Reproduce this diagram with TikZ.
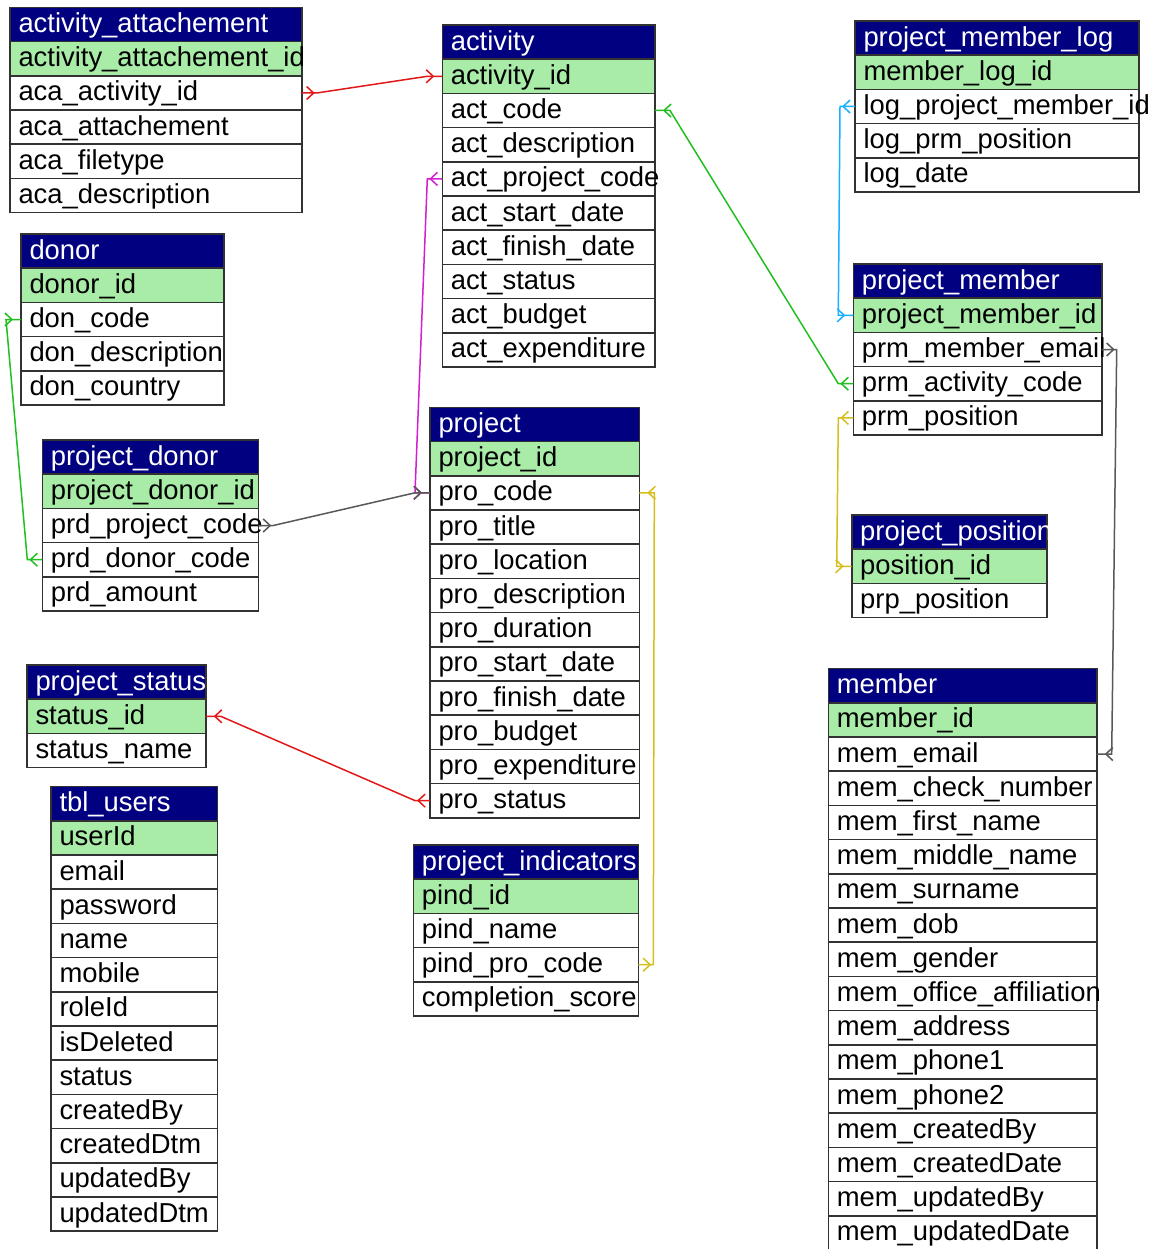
\documentclass[tikz,border=0pt]{standalone}
\usepackage{fontspec}
\setmainfont{Liberation Sans}
\usetikzlibrary{positioning,arrows.meta,decorations.markings}
\definecolor{hdrblue}{RGB}{0,0,128}
\definecolor{keygreen}{RGB}{168,236,168}
\definecolor{rowline}{RGB}{50,50,50}
\definecolor{linkred}{RGB}{226,24,24}
\definecolor{linkgreen}{RGB}{34,190,34}
\definecolor{linkblue}{RGB}{24,176,255}
\definecolor{linkpink}{RGB}{208,32,208}
\definecolor{linkgrey}{RGB}{88,88,88}
\definecolor{linkgold}{RGB}{214,190,30}
\tikzset{
  fieldrow/.style={draw=rowline, line width=1.6pt, inner xsep=8.5pt, inner ysep=0pt, outer sep=0pt,
    minimum height=34.2pt, text height=21pt, text depth=5pt, align=left,
    font=\fontsize{27.4}{30}\selectfont},
  hdr/.style={fieldrow, fill=hdrblue, text=white},
  keyrow/.style={fieldrow, fill=keygreen},
  fld/.style={fieldrow, fill=white},
  fklink/.style={line width=1.5pt, decoration={markings,
    mark=at position 13pt with {\arrow{Straight Barb[length=7pt,width=13pt]}},
    mark=at position -8pt with {\arrow{Straight Barb[length=7pt,width=13pt]}}},
    postaction={decorate}},
}
\begin{document}
\begin{tikzpicture}[x=1pt,y=-1pt]
\useasboundingbox (0,0) rectangle (1153,1249);
\begin{scope}[every node/.append style={text width=274.7pt}]
\node[hdr, anchor=north west] (aa) at (10,7.5) {activity\_attachement};
\node[keyrow, below=0pt of aa] (aaId) {activity\_attachement\_id};
\node[fld, below=0pt of aaId] (aaAct) {aca\_activity\_id};
\node[fld, below=0pt of aaAct] (aaAtt) {aca\_attachement};
\node[fld, below=0pt of aaAtt] (aaType) {aca\_filetype};
\node[fld, below=0pt of aaType] (aaDesc) {aca\_description};
\end{scope}
\begin{scope}[every node/.append style={text width=195.7pt}]
\node[hdr, anchor=north west] (act) at (442.3,25) {activity};
\node[keyrow, below=0pt of act] (actId) {activity\_id};
\node[fld, below=0pt of actId] (actCode) {act\_code};
\node[fld, below=0pt of actCode] (actDesc) {act\_description};
\node[fld, below=0pt of actDesc] (actProj) {act\_project\_code};
\node[fld, below=0pt of actProj] (actStart) {act\_start\_date};
\node[fld, below=0pt of actStart] (actFinish) {act\_finish\_date};
\node[fld, below=0pt of actFinish] (actStatus) {act\_status};
\node[fld, below=0pt of actStatus] (actBudget) {act\_budget};
\node[fld, below=0pt of actBudget] (actExp) {act\_expenditure};
\end{scope}
\begin{scope}[every node/.append style={text width=267pt}]
\node[hdr, anchor=north west] (pml) at (855,21) {project\_member\_log};
\node[keyrow, below=0pt of pml] (pmlId) {member\_log\_id};
\node[fld, below=0pt of pmlId] (pmlPrm) {log\_project\_member\_id};
\node[fld, below=0pt of pmlPrm] (pmlPos) {log\_prm\_position};
\node[fld, below=0pt of pmlPos] (pmlDate) {log\_date};
\end{scope}
\begin{scope}[every node/.append style={text width=186pt}]
\node[hdr, anchor=north west] (don) at (21,234) {donor};
\node[keyrow, below=0pt of don] (donId) {donor\_id};
\node[fld, below=0pt of donId] (donCode) {don\_code};
\node[fld, below=0pt of donCode] (donDesc) {don\_description};
\node[fld, below=0pt of donDesc] (donCountry) {don\_country};
\end{scope}
\begin{scope}[every node/.append style={text width=231.4pt}]
\node[hdr, anchor=north west] (prm) at (853.3,264) {project\_member};
\node[keyrow, below=0pt of prm] (prmId) {project\_member\_id};
\node[fld, below=0pt of prmId] (prmEmail) {prm\_member\_email};
\node[fld, below=0pt of prmEmail] (prmAct) {prm\_activity\_code};
\node[fld, below=0pt of prmAct] (prmPos) {prm\_position};
\end{scope}
\begin{scope}[every node/.append style={text width=192.3pt}]
\node[hdr, anchor=north west] (pro) at (430,407.3) {project};
\node[keyrow, below=0pt of pro] (proId) {project\_id};
\node[fld, below=0pt of proId] (proCode) {pro\_code};
\node[fld, below=0pt of proCode] (proTitle) {pro\_title};
\node[fld, below=0pt of proTitle] (proLoc) {pro\_location};
\node[fld, below=0pt of proLoc] (proDesc) {pro\_description};
\node[fld, below=0pt of proDesc] (proDur) {pro\_duration};
\node[fld, below=0pt of proDur] (proStart) {pro\_start\_date};
\node[fld, below=0pt of proStart] (proFinish) {pro\_finish\_date};
\node[fld, below=0pt of proFinish] (proBudget) {pro\_budget};
\node[fld, below=0pt of proBudget] (proExp) {pro\_expenditure};
\node[fld, below=0pt of proExp] (proStatus) {pro\_status};
\end{scope}
\begin{scope}[every node/.append style={text width=199pt}]
\node[hdr, anchor=north west] (prd) at (42.3,440) {project\_donor};
\node[keyrow, below=0pt of prd] (prdId) {project\_donor\_id};
\node[fld, below=0pt of prdId] (prdProj) {prd\_project\_code};
\node[fld, below=0pt of prdProj] (prdDon) {prd\_donor\_code};
\node[fld, below=0pt of prdDon] (prdAmount) {prd\_amount};
\end{scope}
\begin{scope}[every node/.append style={text width=178.3pt}]
\node[hdr, anchor=north west] (prp) at (851.7,515) {project\_position};
\node[keyrow, below=0pt of prp] (prpId) {position\_id};
\node[fld, below=0pt of prpId] (prpPos) {prp\_position};
\end{scope}
\begin{scope}[every node/.append style={text width=161.7pt}]
\node[hdr, anchor=north west] (pst) at (27,665) {project\_status};
\node[keyrow, below=0pt of pst] (pstId) {status\_id};
\node[fld, below=0pt of pstId] (pstName) {status\_name};
\end{scope}
\begin{scope}[every node/.append style={text width=251.4pt}]
\node[hdr, anchor=north west] (mem) at (828.3,668.5) {member};
\node[keyrow, below=0pt of mem] (memId) {member\_id};
\node[fld, below=0pt of memId] (memEmail) {mem\_email};
\node[fld, below=0pt of memEmail] (memCheck) {mem\_check\_number};
\node[fld, below=0pt of memCheck] (memFirst) {mem\_first\_name};
\node[fld, below=0pt of memFirst] (memMiddle) {mem\_middle\_name};
\node[fld, below=0pt of memMiddle] (memSurname) {mem\_surname};
\node[fld, below=0pt of memSurname] (memDob) {mem\_dob};
\node[fld, below=0pt of memDob] (memGender) {mem\_gender};
\node[fld, below=0pt of memGender] (memOffice) {mem\_office\_affiliation};
\node[fld, below=0pt of memOffice] (memAddress) {mem\_address};
\node[fld, below=0pt of memAddress] (memPhoneA) {mem\_phone1};
\node[fld, below=0pt of memPhoneA] (memPhoneB) {mem\_phone2};
\node[fld, below=0pt of memPhoneB] (memCreatedBy) {mem\_createdBy};
\node[fld, below=0pt of memCreatedBy] (memCreatedDate) {mem\_createdDate};
\node[fld, below=0pt of memCreatedDate] (memUpdatedBy) {mem\_updatedBy};
\node[fld, below=0pt of memUpdatedBy] (memUpdatedDate) {mem\_updatedDate};
\end{scope}
\begin{scope}[every node/.append style={text width=149.3pt}]
\node[hdr, anchor=north west] (usr) at (51,786.5) {tbl\_users};
\node[keyrow, below=0pt of usr] (usrId) {userId};
\node[fld, below=0pt of usrId] (usrEmail) {email};
\node[fld, below=0pt of usrEmail] (usrPass) {password};
\node[fld, below=0pt of usrPass] (usrName) {name};
\node[fld, below=0pt of usrName] (usrMobile) {mobile};
\node[fld, below=0pt of usrMobile] (usrRole) {roleId};
\node[fld, below=0pt of usrRole] (usrDel) {isDeleted};
\node[fld, below=0pt of usrDel] (usrStatus) {status};
\node[fld, below=0pt of usrStatus] (usrCBy) {createdBy};
\node[fld, below=0pt of usrCBy] (usrCDtm) {createdDtm};
\node[fld, below=0pt of usrCDtm] (usrUBy) {updatedBy};
\node[fld, below=0pt of usrUBy] (usrUDtm) {updatedDtm};
\end{scope}
\begin{scope}[every node/.append style={text width=208pt}]
\node[hdr, anchor=north west] (pind) at (413.3,845) {project\_indicators};
\node[keyrow, below=0pt of pind] (pindId) {pind\_id};
\node[fld, below=0pt of pindId] (pindName) {pind\_name};
\node[fld, below=0pt of pindName] (pindPro) {pind\_pro\_code};
\node[fld, below=0pt of pindPro] (pindScore) {completion\_score};
\end{scope}
\draw[fklink, linkred] (aaAct.east) -- ++(15,0) -- ([xshift=-15pt]actId.west) -- (actId.west);
\draw[fklink, linkgreen] (prmAct.west) -- ++(-15,0) -- ([xshift=15pt]actCode.east) -- (actCode.east);
\draw[fklink, linkblue] (pmlPrm.west) -- ++(-15,0) -- ([xshift=-15pt]prmId.west) -- (prmId.west);
\draw[fklink, linkpink] (actProj.west) -- ++(-15,0) -- ([xshift=-15pt]proCode.west) -- (proCode.west);
\draw[fklink, linkgrey] (prdProj.east) -- ++(15,0) -- ([xshift=-15pt]proCode.west) -- (proCode.west);
\draw[fklink, linkgreen] (prdDon.west) -- ++(-15,0) -- ([xshift=-15pt]donCode.west) -- (donCode.west);
\draw[fklink, linkgrey] (prmEmail.east) -- ++(15,0) -- ([xshift=15pt]memEmail.east) -- (memEmail.east);
\draw[fklink, linkgold] (prmPos.west) -- ++(-15,0) -- ([xshift=-15pt]prpId.west) -- (prpId.west);
\draw[fklink, linkgold] (pindPro.east) -- ++(15,0) -- ([xshift=15pt]proCode.east) -- (proCode.east);
\draw[fklink, linkred] (proStatus.west) -- ++(-15,0) -- ([xshift=15pt]pstId.east) -- (pstId.east);
\end{tikzpicture}
\end{document}
